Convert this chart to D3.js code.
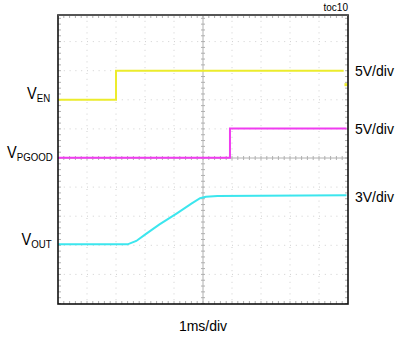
<!DOCTYPE html>
<html><head><meta charset="utf-8">
<script src="https://cdn.jsdelivr.net/npm/d3@7"></script>
<style>
html,body{margin:0;padding:0;background:#fff;}
svg{display:block;font-family:"Liberation Sans",Arial,sans-serif;}
</style></head>
<body>
<svg id="c" width="396" height="337"></svg>
<script>
// ---- data (time in divisions of 1 ms, voltage in volts) ----
const channels = ["VEN", "VPGOOD", "VOUT"];
const channelScale = ["5V/div", "5V/div", "3V/div"];   // volts per division labels
const voltsPerDiv = [5, 5, 3];
const groundDiv = [2, 0, -3];                           // ground reference, in divisions from centre

const enTime  = [0, 2.0, 2.0, 9.85];
const enVolts = [0, 0, 5.0, 5.0];
const enTailTime = [9.93];
const enTailVolts = [2.6];

const pgTime  = [0, 5.93, 5.93, 9.95];
const pgVolts = [0.05, 0.05, 5.05, 5.05];

const outTime  = [0, 2.4, 2.7, 3.0, 3.5, 4.1, 4.6, 4.9, 5.1, 5.5, 9.95];
const outVolts = [0.1, 0.1, 0.45, 1.1, 2.15, 3.3, 4.3, 4.85, 5.0, 5.08, 5.15];

const timeLabel = "1ms/div";
const tocLabel = "toc10";

// ---- layout ----
const svg = d3.select("#c");
const L = 58, R = 348, T = 15, B = 304;
const x = d3.scaleLinear().domain([0, 10]).range([L, R]);
const y = d3.scaleLinear().domain([-5, 5]).range([303.5, 12.5]); // divisions, centre = 0

// grid dots
const grid = svg.append("g");
d3.range(1, 10).filter(d => d !== 5).forEach(d => {
  grid.append("line").attr("x1", x(d)).attr("x2", x(d)).attr("y1", T).attr("y2", B)
    .attr("stroke", "#cfcfcf").attr("stroke-width", 1).attr("stroke-dasharray", "1,4.8");
});
d3.range(-4, 5).filter(d => d !== 0).forEach(d => {
  grid.append("line").attr("x1", L).attr("x2", R).attr("y1", y(d)).attr("y2", y(d))
    .attr("stroke", "#cfcfcf").attr("stroke-width", 1).attr("stroke-dasharray", "1,4.8");
});

// centre axes with minor ticks
const ax = svg.append("g").attr("stroke", "#b0b0b0").attr("stroke-width", 1);
ax.append("line").attr("x1", L).attr("x2", R).attr("y1", y(0)).attr("y2", y(0));
ax.append("line").attr("x1", x(5)).attr("x2", x(5)).attr("y1", T).attr("y2", B);
const minorX = d3.range(0, 50).map(i => i / 5).filter(v => v > 0);
const minorY = d3.range(-25, 25).map(i => i / 5).filter(v => y(v) > T);
minorX.forEach(v => {
  ax.append("line").attr("x1", x(v)).attr("x2", x(v)).attr("y1", y(0) - 2).attr("y2", y(0) + 2);
  ax.append("line").attr("x1", x(v)).attr("x2", x(v)).attr("y1", B - 3).attr("y2", B);
  ax.append("line").attr("x1", x(v)).attr("x2", x(v)).attr("y1", T).attr("y2", T + 3);
});
minorY.forEach(v => {
  ax.append("line").attr("x1", x(5) - 2).attr("x2", x(5) + 2).attr("y1", y(v)).attr("y2", y(v));
  ax.append("line").attr("x1", L).attr("x2", L + 3).attr("y1", y(v)).attr("y2", y(v));
  ax.append("line").attr("x1", R - 3).attr("x2", R).attr("y1", y(v)).attr("y2", y(v));
});

// traces
function trace(times, volts, ch, color) {
  const pts = times.map((t, i) => [x(t), y(groundDiv[ch] + volts[i] / voltsPerDiv[ch])]);
  svg.append("path").attr("d", d3.line()(pts)).attr("fill", "none")
    .attr("stroke", color).attr("stroke-width", 2).attr("stroke-linejoin", "miter");
}
const colors = ["#ecec2c", "#f03cf0", "#3ce6ee"];
trace(enTime, enVolts, 0, colors[0]);
trace(pgTime, pgVolts, 1, colors[1]);
trace(outTime, outVolts, 2, colors[2]);
enTailTime.forEach((t, i) => {
  svg.append("rect").attr("x", x(t) - 1.5).attr("y", y(groundDiv[0] + enTailVolts[i] / voltsPerDiv[0]) - 1.5)
    .attr("width", 3).attr("height", 3).attr("fill", colors[0]);
});

// frame
svg.append("rect").attr("x", L).attr("y", T).attr("width", R - L).attr("height", B - T)
  .attr("fill", "none").attr("stroke", "#111").attr("stroke-width", 1.6);
svg.append("line").attr("x1", L).attr("x2", R).attr("y1", T).attr("y2", T)
  .attr("stroke", "#555").attr("stroke-width", 1.8);

// right scale labels
const scaleLevels = [3, 1, -1.35];
channelScale.forEach((s, i) => {
  svg.append("text").attr("x", 355).attr("y", y(scaleLevels[i]) + 5).attr("font-size", 14)
    .attr("fill", "#000").text(s);
});

// left channel labels
const leftLabels = [
  {v: "V", sub: "EN", x: 27, level: 2},
  {v: "V", sub: "PGOOD", x: 7, level: 0},
  {v: "V", sub: "OUT", x: 21.5, level: -3}
];
leftLabels.forEach(d => {
  const g = svg.append("g").attr("transform", `translate(${d.x},${y(d.level) - 0.5}) scale(0.88,1)`);
  const t = g.append("text").attr("x", 0).attr("y", 0).attr("fill", "#000");
  t.append("tspan").attr("font-size", 16.5).text(d.v);
  t.append("tspan").attr("font-size", 11).attr("dy", 3).text(d.sub);
});

// bottom & top labels
svg.append("text").attr("x", x(5)).attr("y", 331).attr("text-anchor", "middle")
  .attr("font-size", 14).attr("fill", "#000").text(timeLabel);
svg.append("text").attr("x", R).attr("y", 11).attr("text-anchor", "end")
  .attr("font-size", 10).attr("fill", "#000").text(tocLabel);
</script>
</body></html>
